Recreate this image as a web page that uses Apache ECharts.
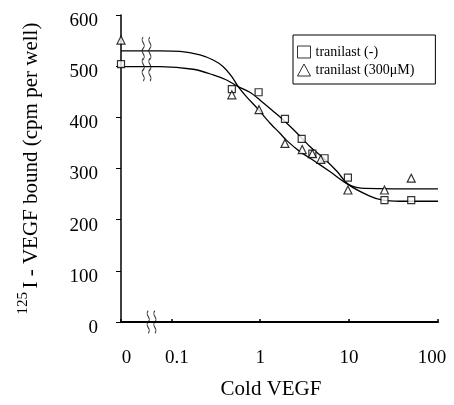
<!DOCTYPE html>
<html><head><meta charset="utf-8">
<script src="https://cdn.jsdelivr.net/npm/echarts@6/dist/echarts.min.js"></script>
<style>html,body{margin:0;padding:0;background:#fff}#c{width:454px;height:405px}</style>
</head><body><div id="c"></div>
<script>
// dose 0 is drawn at the left end of the log axis
const ZERO_POS = 0.0272;
const X_MAX = 100;
const xTickLabels = ['0', '0.1', '1', '10', '100'];
const seriesNames = ['tranilast (-)', 'tranilast (300\u03bcM)'];

const doseSquares = [0, 0.48, 0.96, 1.9, 2.93, 3.86, 5.3, 9.7, 25, 50];
const boundSquares = [504, 455, 449, 397, 358, 329, 320, 282, 238, 238];
const doseTriangles = [0, 0.48, 0.97, 1.9, 2.97, 3.86, 4.8, 9.7, 25, 50];
const boundTriangles = [551, 444, 415, 349, 337, 329, 318, 258, 258, 281];

const fitDoseA = [0, 0.0744, 0.176, 0.296, 0.419, 0.566, 0.766, 0.992, 1.4, 1.9, 2.57, 3.62, 5.11, 7.25, 9.77, 17.1, 24, 37.3, 100];
const fitBoundA = [499, 499, 494, 483, 473, 460, 449, 434, 412, 392, 370, 343, 321, 295, 269, 246, 238, 236, 236];
const fitDoseB = [0, 0.0744, 0.125, 0.21, 0.296, 0.384, 0.477, 0.566, 0.703, 0.935, 1.285, 1.667, 1.98, 2.8, 3.95, 6.08, 9.77, 15.1, 100];
const fitBoundB = [530, 530, 529, 522, 512, 499, 480, 460, 440, 417, 389, 369, 355, 333, 316, 294, 269, 261, 260];

// axis-break marks (decoration)
const breakLineDose = [0.0527, 0.0527];
const breakLineBound = [535, 493];
const breakAxisDose = [0.06];
const breakAxisBound = [0];

const FONT = 'Liberation Serif';
const pos = d => (d === 0 ? ZERO_POS : d);
const pairs = (xs, ys) => xs.map((x, i) => [pos(x), ys[i]]);
const wave = 'path://M3,0 C0,5 6,10 3,15 C0,20 6,25 3,30 M8,0 C5,5 11,10 8,15 C5,20 11,25 8,30';

const chart = echarts.init(document.getElementById('c'), null, {renderer: 'canvas'});
const lbl = () => ({fontFamily: FONT, fontSize: 19, color: '#000'});
chart.setOption({
  animation: false,
  backgroundColor: '#fff',
  grid: {left: 121, right: 16, top: 15, bottom: 82},
  legend: {
    data: [
      {name: seriesNames[0], icon: 'rect', itemStyle: {color: '#fff', borderColor: '#000', borderWidth: 1}},
      {name: seriesNames[1], icon: 'triangle', itemStyle: {color: '#fff', borderColor: '#000', borderWidth: 1}}
    ],
    orient: 'vertical', left: 293, top: 35,
    padding: [10, 21, 7, 4], itemGap: 4, itemWidth: 13, itemHeight: 12,
    borderColor: '#000', borderWidth: 1, backgroundColor: '#fff',
    textStyle: {fontFamily: FONT, fontSize: 14, color: '#000'}
  },
  xAxis: {
    type: 'log', logBase: 10, min: ZERO_POS, max: X_MAX,
    name: 'Cold VEGF', nameLocation: 'middle', nameGap: 57,
    nameTextStyle: {fontFamily: FONT, fontSize: 21, color: '#000', padding: [0, 17, 0, 0]},
    axisLine: {lineStyle: {color: '#000', width: 2}},
    axisTick: {inside: true, length: 3, lineStyle: {color: '#000', width: 1.5}},
    splitLine: {show: false}, minorTick: {show: false},
    axisLabel: {
      margin: 27, color: '#000', fontFamily: FONT, fontSize: 19,
      formatter: v => {
        const i = v < 0.05 ? 0 : Math.round(Math.log10(v)) + 2;
        const t = xTickLabels[i];
        if (i <= 1) return '{a|' + t + '}';
        if (i === 4) return '{c|' + t + '}';
        return '{b|' + t + '}';
      },
      rich: {
        a: Object.assign(lbl(), {padding: [0, 0, 0, 11]}),
        b: lbl(),
        c: Object.assign(lbl(), {padding: [0, 12, 0, 0]})
      }
    }
  },
  yAxis: {
    type: 'value', min: 0, max: 600, interval: 100,
    name: '{sup|125} {main|I - VEGF bound (cpm per well)}',
    nameLocation: 'middle', nameGap: 75,
    nameTextStyle: {
      color: '#000',
      rich: {
        sup: {fontFamily: FONT, fontSize: 15, color: '#000', verticalAlign: 'top', lineHeight: 15},
        main: {fontFamily: FONT, fontSize: 21, color: '#000', lineHeight: 30}
      }
    },
    axisLine: {show: true, lineStyle: {color: '#000', width: 1.5}},
    axisTick: {show: true, length: 5, lineStyle: {color: '#000', width: 1}},
    splitLine: {show: false},
    axisLabel: {
      margin: 23, color: '#000', fontFamily: FONT, fontSize: 19,
      formatter: v => '{v|' + v + '}',
      rich: {v: Object.assign(lbl(), {padding: [12, 0, 0, 0]})}
    }
  },
  series: [
    {type: 'line', name: 'fitA', data: pairs(fitDoseA, fitBoundA), showSymbol: false, symbol: 'none',
     smooth: 0.3, lineStyle: {color: '#000', width: 1.3}, silent: true, z: 2},
    {type: 'line', name: 'fitB', data: pairs(fitDoseB, fitBoundB), showSymbol: false, symbol: 'none',
     smooth: 0.3, lineStyle: {color: '#000', width: 1.3}, silent: true, z: 2},
    {type: 'scatter', name: seriesNames[0], data: pairs(doseSquares, boundSquares), symbol: 'rect', symbolSize: 7,
     itemStyle: {color: '#fff', borderColor: '#000', borderWidth: 1.2}, z: 4},
    {type: 'scatter', name: seriesNames[1], data: pairs(doseTriangles, boundTriangles), symbol: 'triangle', symbolSize: 8,
     itemStyle: {color: '#fff', borderColor: '#000', borderWidth: 1.2}, z: 4},
    {type: 'scatter', name: 'breaks', data: pairs(breakLineDose, breakLineBound).concat(pairs(breakAxisDose, breakAxisBound)),
     symbol: wave, symbolSize: [9, 22], silent: true,
     itemStyle: {color: 'transparent', borderColor: '#000', borderWidth: 1.2}, z: 5}
  ]
});
</script></body></html>
